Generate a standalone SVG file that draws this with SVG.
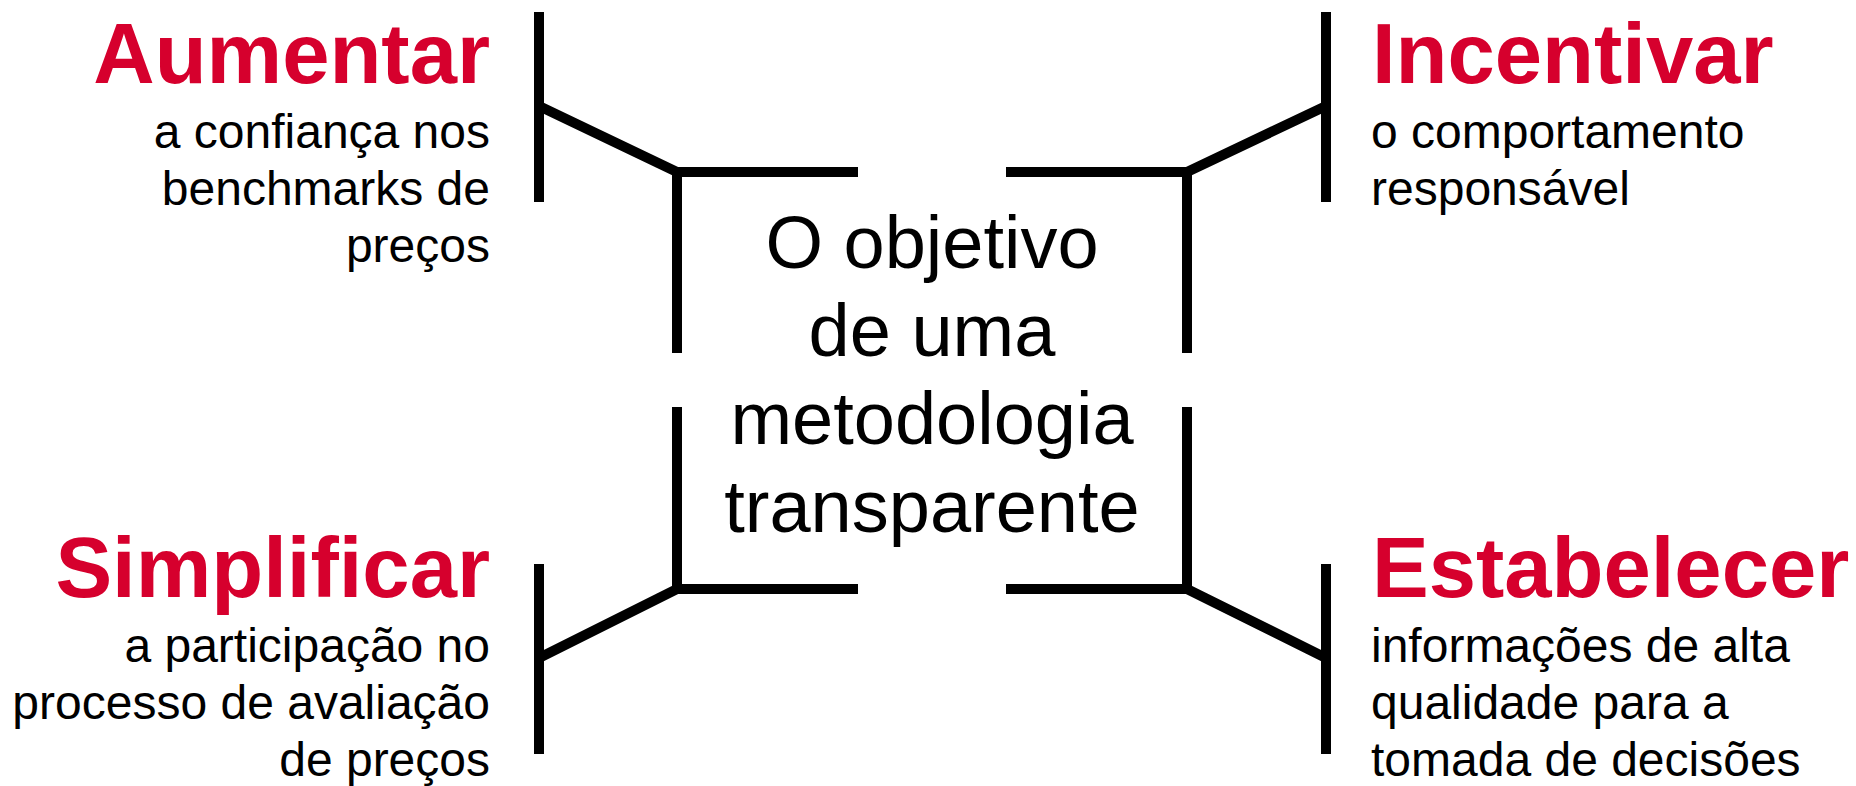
<svg xmlns="http://www.w3.org/2000/svg" width="1856" height="786" viewBox="0 0 1856 786">
<style>
.ln{fill:none;stroke:#000;stroke-width:10;stroke-linecap:butt;stroke-linejoin:miter}
.ttl{font-family:"Liberation Sans",Arial,sans-serif;font-weight:bold;font-size:85px;fill:#D6002D}
.bd{font-family:"Liberation Sans",Arial,sans-serif;font-size:48px;fill:#000}
.ctr{font-family:"Liberation Sans",Arial,sans-serif;font-size:74px;fill:#000;text-anchor:middle}
.r{text-anchor:end}
</style>
<rect width="1856" height="786" fill="#fff"/>
<g id="connectors">
<line class="ln" x1="539" y1="12" x2="539" y2="202"/>
<path class="ln" d="M539,106 L677,172 L858,172"/>
<line class="ln" x1="677" y1="172" x2="677" y2="353"/>
<line class="ln" x1="1326" y1="12" x2="1326" y2="202"/>
<path class="ln" d="M1326,106 L1187,172 L1006,172"/>
<line class="ln" x1="1187" y1="172" x2="1187" y2="353"/>
<line class="ln" x1="539" y1="564" x2="539" y2="754"/>
<path class="ln" d="M539,658 L677,589 L858,589"/>
<line class="ln" x1="677" y1="407" x2="677" y2="589"/>
<line class="ln" x1="1326" y1="564" x2="1326" y2="754"/>
<path class="ln" d="M1326,658 L1187,589 L1006,589"/>
<line class="ln" x1="1187" y1="407" x2="1187" y2="589"/>
</g>
<g id="center">
<text class="ctr" x="932" y="268">O objetivo</text>
<text class="ctr" x="932" y="356">de uma</text>
<text class="ctr" x="932" y="444">metodologia</text>
<text class="ctr" x="932" y="532">transparente</text>
</g>
<g id="aumentar">
<text class="ttl r" x="490" y="83">Aumentar</text>
<text class="bd r" x="490" y="148">a confiança nos</text>
<text class="bd r" x="490" y="205">benchmarks de</text>
<text class="bd r" x="490" y="262">preços</text>
</g>
<g id="incentivar">
<text class="ttl" x="1372" y="83">Incentivar</text>
<text class="bd" x="1371" y="148">o comportamento</text>
<text class="bd" x="1371" y="205">responsável</text>
</g>
<g id="simplificar">
<text class="ttl r" x="490" y="597">Simplificar</text>
<text class="bd r" x="490" y="662">a participação no</text>
<text class="bd r" x="490" y="719">processo de avaliação</text>
<text class="bd r" x="490" y="776">de preços</text>
</g>
<g id="estabelecer">
<text class="ttl" x="1372" y="597">Estabelecer</text>
<text class="bd" x="1371" y="662">informações de alta</text>
<text class="bd" x="1371" y="719">qualidade para a</text>
<text class="bd" x="1371" y="776">tomada de decisões</text>
</g>
</svg>
